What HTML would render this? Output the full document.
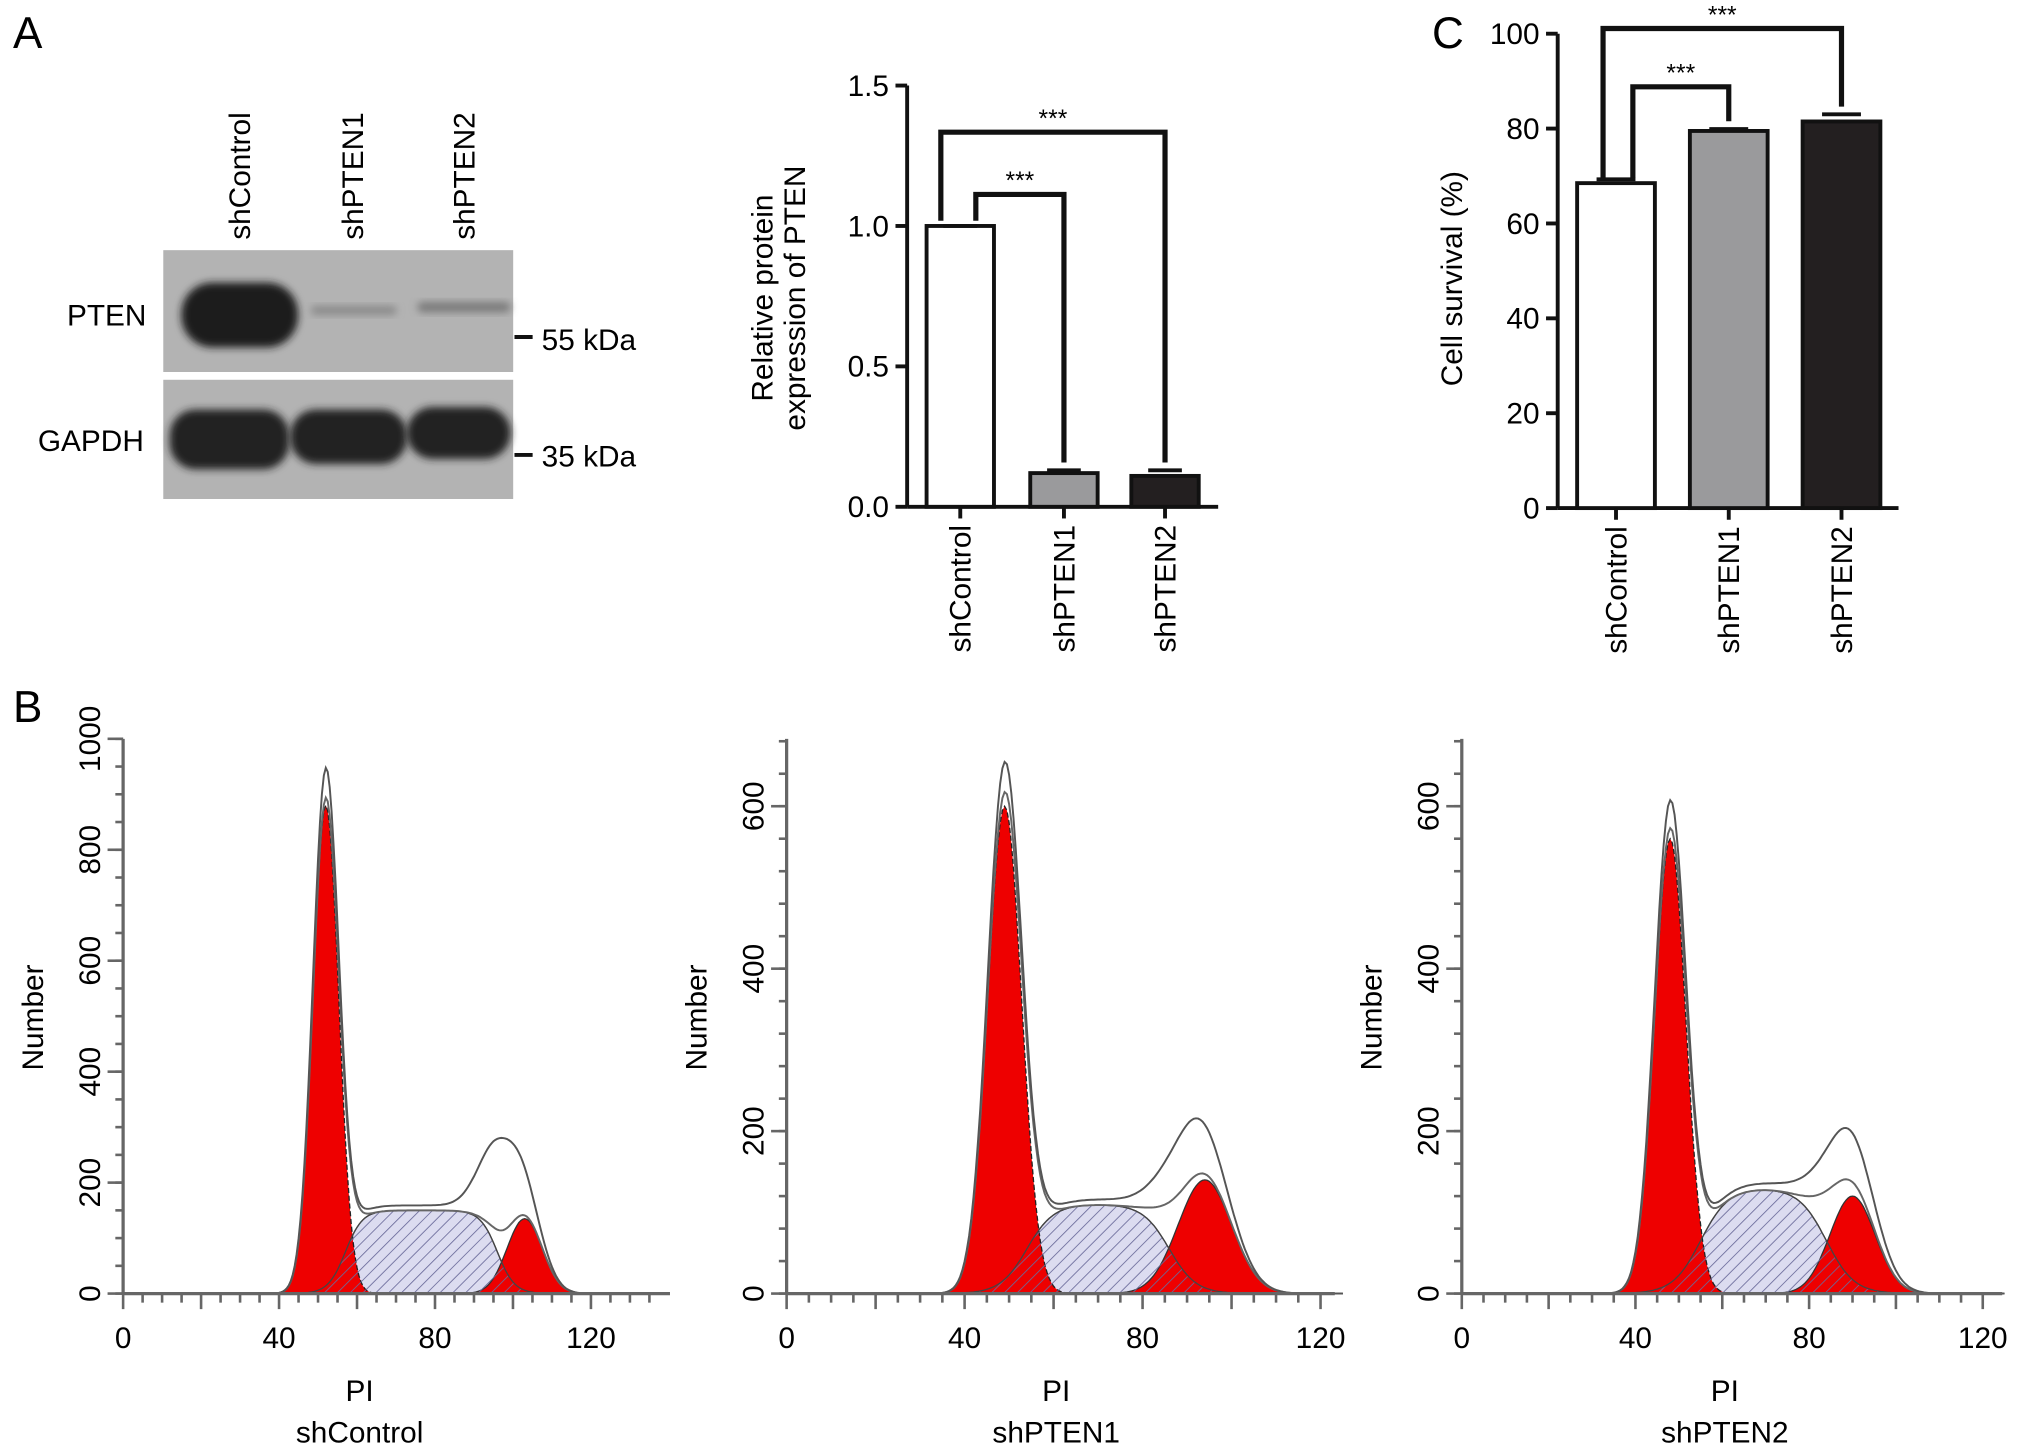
<!DOCTYPE html>
<html><head><meta charset="utf-8"><style>
html,body{margin:0;padding:0;background:#fff;}
svg{display:block;font-family:"Liberation Sans",Arial,sans-serif;}
</style></head><body>
<svg id="fig" width="2032" height="1453" viewBox="0 0 1568 1121" preserveAspectRatio="none" xmlns="http://www.w3.org/2000/svg">
<defs>
<filter id="blur2" x="-20%" y="-40%" width="140%" height="180%"><feGaussianBlur stdDeviation="3"/></filter>
<pattern id="hatch" width="7" height="7" patternUnits="userSpaceOnUse" patternTransform="rotate(45)"><rect width="7" height="7" fill="none"/><line x1="0" y1="0" x2="0" y2="7" stroke="#6a6a9a" stroke-width="1.3"/></pattern>
</defs>
<g id="root"></g>
</svg>
<script>
// ---- Data ----
var laneLabels = ["shControl","shPTEN1","shPTEN2"];
var ptenValues = [1.0, 0.12, 0.11];
var ptenErrors = [0.0, 0.01, 0.02];
var ptenTicks = [0.0, 0.5, 1.0, 1.5];
var survivalValues = [68.5, 79.5, 81.5];
var survivalErrors = [0.8, 0.4, 1.5];
var survivalTicks = [0, 20, 40, 60, 80, 100];
var barColors = ["#ffffff","#9a9a9c","#231f20"];
// histogram components: [center, height, sd]
var g1Params = [[52, 880, 3.3],[49, 600, 3.8],[48, 560, 3.6]];
var g2Params = [[103, 135, 4.5],[94, 140, 6.0],[90, 120, 5.2]];
// S-phase: [start, end, plateau height, edge width]
var sParams = [[57, 96, 150, 2.2],[54, 86, 110, 3.0],[55, 84, 130, 3.2]];
var obsExtra = [[97, 160, 5],[90, 65, 6],[88, 55, 6]];
var histNames = ["shControl","shPTEN1","shPTEN2"];
var histYMax = [1000, 683, 683];
var histYTicks = [[0,200,400,600,800,1000],[0,200,400,600],[0,200,400,600]];
var histXTicks = [0,40,80,120];

var NS="http://www.w3.org/2000/svg";
var root=document.getElementById('root');
function mk(tag,attrs,parent){var e=document.createElementNS(NS,tag);for(var k in attrs)e.setAttribute(k,attrs[k]);(parent||root).appendChild(e);return e;}
function txt(s,attrs,parent){var e=mk('text',attrs,parent);e.textContent=s;return e;}
var FS=23;

var e;
e=txt("A",{x:10,y:37,'font-size':34});

e=txt("B",{x:10,y:557,'font-size':34});

e=txt("C",{x:1105,y:37,'font-size':34});


// ---- Western blot ----
var blot=mk('g',{});

var laneX=[185,272,358];
laneLabels.forEach(function(l,i){
  var t=txt(l,{x:0,y:0,'font-size':FS,transform:'translate('+(laneX[i]+8)+',185) rotate(-90)'},blot);
  
});
e=mk('rect',{x:126,y:193,width:270,height:94,fill:'#b3b3b3'},blot);

e=mk('rect',{x:126,y:293,width:270,height:92,fill:'#b3b3b3'},blot);

e=mk('rect',{x:140,y:218,width:90,height:50,rx:24,fill:'#1e1e1e',filter:'url(#blur2)'},blot);

e=mk('rect',{x:240,y:236,width:66,height:7,rx:3,fill:'#8a8a8a',filter:'url(#blur2)'},blot);

e=mk('rect',{x:322,y:233,width:72,height:8,rx:4,fill:'#7a7a7a',filter:'url(#blur2)'},blot);

[[131,92,316,46],[224,90,316,42],[314,80,314,40]].forEach(function(b){
  var r=mk('rect',{x:b[0],y:b[2],width:b[1],height:b[3],rx:20,fill:'#222',filter:'url(#blur2)'},blot);
  
});
e=txt("PTEN",{x:113,y:251,'font-size':FS,'text-anchor':'end'},blot);

e=txt("GAPDH",{x:111,y:348,'font-size':FS,'text-anchor':'end'},blot);

e=mk('line',{x1:397,x2:411,y1:260,y2:260,stroke:'#111','stroke-width':3},blot);

e=txt("55 kDa",{x:418,y:270,'font-size':FS},blot);

e=mk('line',{x1:397,x2:411,y1:351,y2:351,stroke:'#111','stroke-width':3},blot);

e=txt("35 kDa",{x:418,y:360,'font-size':FS},blot);


// ---- Bar chart helper ----
function barChart(o){
  var g=mk('g',{});
  
  var ys=function(v){return o.y0-(v-o.min)/(o.max-o.min)*(o.y0-o.y1);};
  var a=mk('line',{x1:o.x0,x2:o.x0,y1:o.y1,y2:o.y0,stroke:'#111','stroke-width':3},g);
  
  a=mk('line',{x1:o.x0,x2:o.xEnd,y1:o.y0,y2:o.y0,stroke:'#111','stroke-width':3},g);
  
  o.ticks.forEach(function(t){
    var y=ys(t);
    var tk=mk('line',{x1:o.x0-9,x2:o.x0,y1:y,y2:y,stroke:'#111','stroke-width':3},g);
    
    var tl=txt(o.fmt(t),{x:o.x0-14,y:y+8,'font-size':FS,'text-anchor':'end'},g);
    
  });
  o.values.forEach(function(v,i){
    var cx=o.cx[i],y=ys(v);
    var b=mk('rect',{x:cx-o.bw/2,y:y,width:o.bw,height:o.y0-y,fill:barColors[i],stroke:'#111','stroke-width':3},g);
    
    var ye=ys(v+o.err[i]);
    var eb=mk('line',{x1:cx-o.bw/4,x2:cx+o.bw/4,y1:ye,y2:ye,stroke:'#111','stroke-width':3},g);
    
    var tk=mk('line',{x1:cx,x2:cx,y1:o.y0,y2:o.y0+9,stroke:'#111','stroke-width':3},g);
    
    var tl=txt(laneLabels[i],{x:0,y:0,'font-size':FS,'text-anchor':'end',transform:'translate('+(cx+8)+','+(o.y0+14)+') rotate(-90)'},g);
    
  });
  o.brackets.forEach(function(br){
    var i=br[0],j=br[1],yb=br[2];
    var xa=o.cx[i]+br[3],xb=o.cx[j];
    var p=mk('path',{d:'M'+xa+','+(ys(o.values[i])-4)+' V'+yb+' H'+xb+' V'+(ys(o.values[j]+o.err[j])-6),fill:'none',stroke:'#111','stroke-width':4},g);
    
    var s=txt('***',{x:(xa+xb)/2,y:yb-4,'font-size':19,'text-anchor':'middle'},g);
    
  });
  o.title.forEach(function(t,k){
    var tt=txt(t,{x:0,y:0,'font-size':FS,'text-anchor':'middle',transform:'translate('+(o.tx+k*25)+','+o.ty+') rotate(-90)'},g);
    
  });
}
barChart({name:'pten-expression-chart',x0:700,xEnd:940,y0:391,y1:66,min:0,max:1.5,ticks:ptenTicks,
  fmt:function(t){return t.toFixed(1);},values:ptenValues,err:ptenErrors,cx:[741,821,899],bw:52,
  brackets:[[0,1,150,12],[0,2,102,-15]],title:['Relative protein','expression of PTEN'],tx:596,ty:230});
barChart({name:'cell-survival-chart',x0:1202,xEnd:1465,y0:392,y1:26,min:0,max:100,ticks:survivalTicks,
  fmt:function(t){return String(t);},values:survivalValues,err:survivalErrors,cx:[1247,1334,1421],bw:60,
  brackets:[[0,1,67,13],[0,2,22,-10]],title:['Cell survival (%)'],tx:1128,ty:215});

// ---- Histograms ----
var histX0=[95,607,1128], histX120=[456,1019,1530], histXEnd=[517,1030,1545];
var Y0=998, YTOP=570;
function gauss(x,p){return p[1]*Math.exp(-0.5*Math.pow((x-p[0])/p[2],2));}
function sph(x,p){return p[2]/(1+Math.exp(-(x-p[0])/p[3]))/(1+Math.exp(-(p[1]-x)/p[3]));}
for(var h=0;h<3;h++){
  (function(h){
  var g=mk('g',{});
  
  var xs=function(v){return histX0[h]+v*(histX120[h]-histX0[h])/120;};
  var ys=function(v){return Y0-v*(Y0-YTOP)/histYMax[h];};
  function path(fn,close){
    var d='',x;
    for(x=30;x<=125;x+=0.5){var v=fn(x);d+=(d?'L':'M')+xs(x).toFixed(1)+','+ys(v).toFixed(1);}
    if(close)d+='Z';return d;
  }
  var s=mk('path',{d:path(function(x){return sph(x,sParams[h]);},true),fill:'#dcdcf0',stroke:'#333','stroke-width':1},g);
  
  var r1=mk('path',{d:path(function(x){return gauss(x,g1Params[h]);},true),fill:'#ee0000',stroke:'#222','stroke-width':1,'stroke-dasharray':'4,2'},g);
  
  var r2=mk('path',{d:path(function(x){return gauss(x,g2Params[h]);},true),fill:'#ee0000',stroke:'#333','stroke-width':1},g);
  
  var sh=mk('path',{d:path(function(x){return sph(x,sParams[h]);},true),fill:'url(#hatch)',stroke:'#444','stroke-width':1},g);
  
  var fit=function(x){return gauss(x,g1Params[h])+gauss(x,g2Params[h])+sph(x,sParams[h]);};
  var l1=mk('path',{d:path(fit,false),fill:'none',stroke:'#666','stroke-width':1.5},g);
  
  var obs=function(x){return fit(x)*1.06+gauss(x,obsExtra[h]);};
  var l2=mk('path',{d:path(obs,false),fill:'none',stroke:'#555','stroke-width':1.5},g);
  
  var a=mk('line',{x1:histX0[h],x2:histX0[h],y1:YTOP,y2:Y0,stroke:'#666','stroke-width':2.5},g);
  
  a=mk('line',{x1:histX0[h],x2:histXEnd[h],y1:Y0,y2:Y0,stroke:'#666','stroke-width':2.5},g);
  
  var step=h==0?50:40;
  for(var v=0;v<=histYMax[h];v+=step){
    var y=ys(v);
    var tk=mk('line',{x1:histX0[h]-6,x2:histX0[h],y1:y,y2:y,stroke:'#666','stroke-width':2},g);
    
  }
  histYTicks[h].forEach(function(t){
    var y=ys(t);
    var tk=mk('line',{x1:histX0[h]-12,x2:histX0[h],y1:y,y2:y,stroke:'#666','stroke-width':2},g);
    
    var tl=txt(String(t),{x:0,y:0,'font-size':FS,'text-anchor':'middle',transform:'translate('+(histX0[h]-18)+','+y+') rotate(-90)'},g);
    
  });
  for(var xv=0;xv<=135;xv+=5){
    var xx=xs(xv); if(xx>histXEnd[h]+1)break;
    var big=xv%20==0;
    var tk2=mk('line',{x1:xx,x2:xx,y1:Y0,y2:Y0+(big?12:7),stroke:'#666','stroke-width':2},g);
    
  }
  histXTicks.forEach(function(t){
    var tl=txt(String(t),{x:xs(t),y:Y0+42,'font-size':FS,'text-anchor':'middle'},g);
    
  });
  var mid=xs(60);
  var t1=txt('PI',{x:mid+2,y:1081,'font-size':FS,'text-anchor':'middle'},g);
  
  var t2=txt(histNames[h],{x:mid+2,y:1113,'font-size':FS,'text-anchor':'middle'},g);
  
  var t3=txt('Number',{x:0,y:0,'font-size':FS,'text-anchor':'middle',transform:'translate('+(histX0[h]-62)+',785) rotate(-90)'},g);
  
  })(h);
}
</script>
</body></html>
